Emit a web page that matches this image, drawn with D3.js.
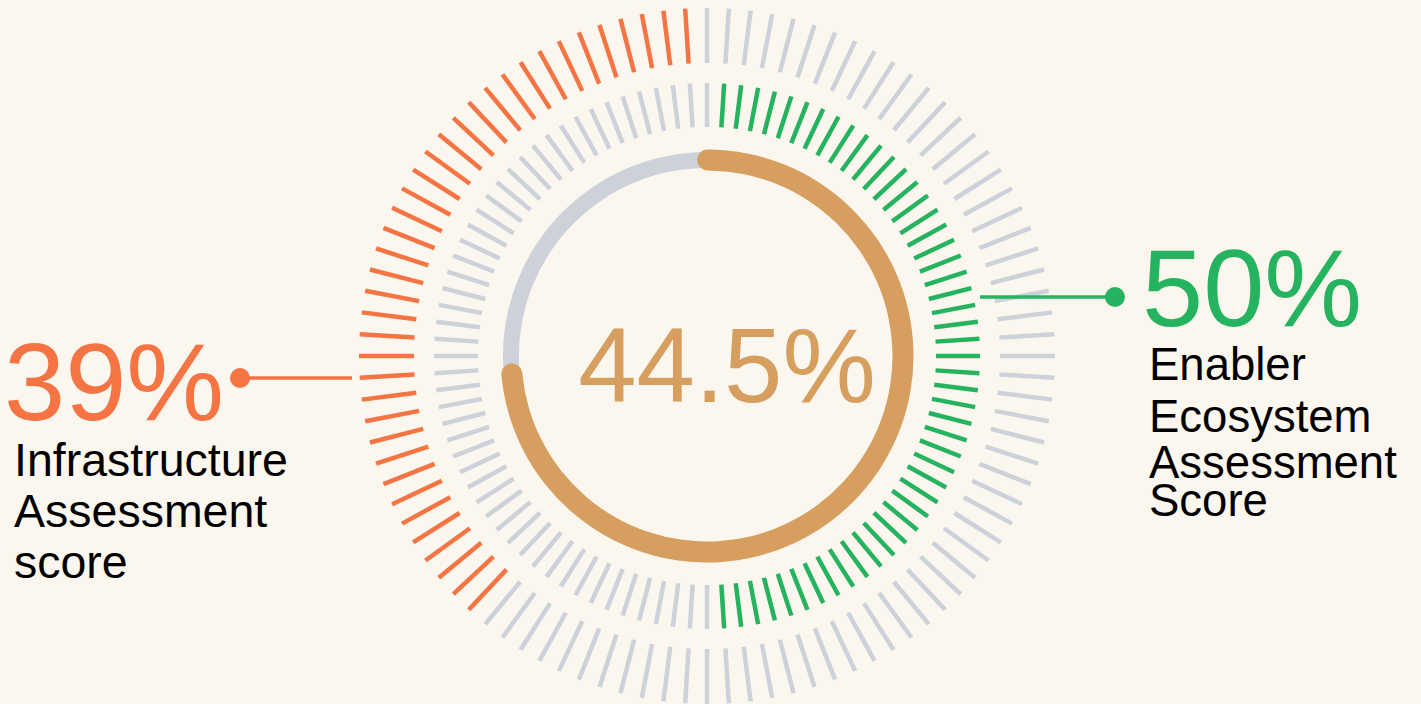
<!DOCTYPE html>
<html>
<head>
<meta charset="utf-8">
<script src="https://cdn.jsdelivr.net/npm/d3@7"></script>
<style>
  html, body { margin: 0; padding: 0; background: #fbf7ef; }
  svg { display: block; }
  text { font-family: "Liberation Sans", Arial, Helvetica, sans-serif; }
</style>
</head>
<body>
<div id="chart"></div>
<script>
// scores shown on the chart
var infraScore = 39;
var enablerScore = 50;
var overallScore = 44.5;
var tickCount = 100;
// part of the inner ring drawn in tan, as fractions of a turn
var gaugeArc = [-0.008, 0.744];

var infraLabel = ["Infrastructure", "Assessment", "score"];
var enablerLabel = ["Enabler", "Ecosystem", "Assessment", "Score"];

var colors = {
    bg: "#fbf7ef",
    grey: "#ccd1da",
    orange: "#f47444",
    green: "#25b35f",
    tan: "#d69f60",
    text: "#000"
};

var W = 1421, H = 704;
var cx = 707, cy = 356;

var svg = d3.select("#chart")
            .append("svg")
            .attr("width", W)
            .attr("height", H);

svg.append("rect")
    .attr("width", W)
    .attr("height", H)
    .attr("fill", colors.bg);

var g = svg.append("g")
    .attr("transform", "translate(" + cx + "," + cy + ")");

// angle of each tick, 0 at the top, going clockwise
var angle = d3.scaleLinear().domain([0, tickCount]).range([0, 2 * Math.PI]);
var ticks = d3.range(tickCount);

function drawRing(r0, r1, colourOf) {
    g.append("g")
        .selectAll("line")
        .data(ticks)
        .join("line")
            .attr("x1", d => Math.sin(angle(d)) * r0)
            .attr("y1", d => -Math.cos(angle(d)) * r0)
            .attr("x2", d => Math.sin(angle(d)) * r1)
            .attr("y2", d => -Math.cos(angle(d)) * r1)
            .attr("stroke", colourOf)
            .attr("stroke-width", 4.5);
}

// outer ring: infrastructure score, counted anticlockwise from the top
drawRing(293, 348, function(d) {
    var k = (tickCount - d) % tickCount;
    return (k > 0 && k < infraScore) ? colors.orange : colors.grey;
});

// middle ring: enabler score, counted clockwise from the top
drawRing(229, 273, function(d) {
    return (d > 0 && d < enablerScore) ? colors.green : colors.grey;
});

// inner gauge
var turn = d3.scaleLinear().domain([0, 1]).range([0, 2 * Math.PI]);

g.append("path")
    .attr("d", d3.arc()
        .innerRadius(188)
        .outerRadius(204)
        .startAngle(0)
        .endAngle(2 * Math.PI)())
    .attr("fill", colors.grey);

g.append("path")
    .attr("d", d3.arc()
        .innerRadius(185.5)
        .outerRadius(206.5)
        .cornerRadius(10.5)
        .startAngle(turn(gaugeArc[0]))
        .endAngle(turn(gaugeArc[1]))())
    .attr("fill", colors.tan);

g.append("text")
    .attr("x", 20)
    .attr("y", 45.5)
    .attr("text-anchor", "middle")
    .attr("fill", colors.tan)
    .style("font-size", "105px")
    .text(d3.format(".1f")(overallScore) + "%");

// left callout
svg.append("line")
    .attr("x1", 240).attr("y1", 378)
    .attr("x2", 352).attr("y2", 378)
    .attr("stroke", colors.orange)
    .attr("stroke-width", 3.5);
svg.append("circle")
    .attr("cx", 240).attr("cy", 378)
    .attr("r", 10)
    .attr("fill", colors.orange);

svg.append("text")
    .attr("x", 4)
    .attr("y", 419.5)
    .attr("fill", colors.orange)
    .style("font-size", "110px")
    .text(infraScore + "%");

svg.append("text")
    .attr("fill", colors.text)
    .style("font-size", "46.5px")
    .selectAll("tspan")
    .data(infraLabel)
    .join("tspan")
        .attr("x", 14)
        .attr("y", (d, i) => 475.5 + i * 51)
        .text(d => d);

// right callout
svg.append("line")
    .attr("x1", 980).attr("y1", 297)
    .attr("x2", 1115).attr("y2", 297)
    .attr("stroke", colors.green)
    .attr("stroke-width", 3.5);
svg.append("circle")
    .attr("cx", 1115).attr("cy", 297)
    .attr("r", 10)
    .attr("fill", colors.green);

svg.append("text")
    .attr("x", 1142)
    .attr("y", 325.5)
    .attr("fill", colors.green)
    .style("font-size", "110px")
    .text(enablerScore + "%");

var enablerBaselines = [380, 431.5, 478, 516];
svg.append("text")
    .attr("fill", colors.text)
    .style("font-size", "45.5px")
    .selectAll("tspan")
    .data(enablerLabel)
    .join("tspan")
        .attr("x", 1149)
        .attr("y", (d, i) => enablerBaselines[i])
        .text(d => d);
</script>
</body>
</html>
